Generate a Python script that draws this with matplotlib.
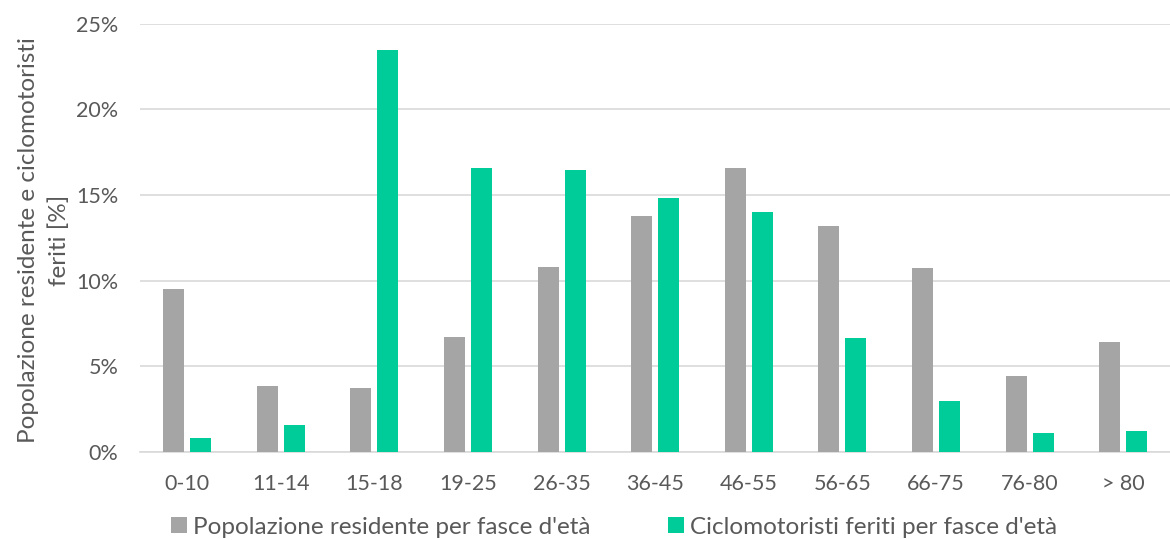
import numpy as np
import matplotlib.pyplot as plt
from matplotlib.ticker import FuncFormatter

plt.rcParams['font.family'] = ['Lato', 'DejaVu Sans']

categories = ['0-10', '11-14', '15-18', '19-25', '26-35', '36-45', '46-55', '56-65', '66-75', '76-80', '> 80']
popolazione = [9.5, 3.86, 3.74, 6.7, 10.8, 13.8, 16.6, 13.2, 10.75, 4.45, 6.4]
ciclomotoristi = [0.82, 1.56, 23.45, 16.55, 16.45, 14.8, 14.0, 6.68, 3.0, 1.13, 1.25]

gray = '#a5a5a5'
green = '#00cc99'
txt = '#595959'

fig = plt.figure(figsize=(11.7, 5.4), dpi=100)
ax = fig.add_axes([0.12, 0.163, 0.88, 0.793])

x = np.arange(len(categories))
w = 0.225
ax.bar(x - w / 2 - 0.032, popolazione, w, color=gray, label="Popolazione residente per fasce d'età", zorder=3)
ax.bar(x + w / 2 + 0.032, ciclomotoristi, w, color=green, label="Ciclomotoristi feriti per fasce d'età", zorder=3)

ax.set_ylim(0, 25)
ax.set_xlim(-0.5, len(categories) - 0.5)
ax.set_yticks([0, 5, 10, 15, 20, 25])
ax.yaxis.set_major_formatter(FuncFormatter(lambda v, p: '%d%%' % v))
ax.set_xticks(x)
ax.set_xticklabels(categories)
ax.grid(axis='y', color='#d9d9d9', linewidth=1.2, zorder=0)
for s in ['top', 'right', 'left']:
    ax.spines[s].set_visible(False)
ax.spines['bottom'].set_color('#d9d9d9')
ax.spines['bottom'].set_linewidth(1.2)
ax.tick_params(axis='both', length=0, labelsize=15.5, labelcolor=txt)
ax.tick_params(axis='x', pad=16)
ax.tick_params(axis='y', pad=16)

ax.set_ylabel('Popolazione residente e ciclomotoristi\nferiti [%]', fontsize=17.5, color=txt,
              linespacing=1.55)
ax.yaxis.set_label_coords(-0.068, 0.495)

fig.legend(*ax.get_legend_handles_labels(), loc='center', bbox_to_anchor=(0.525, 0.024), ncol=2,
           frameon=False, fontsize=17.5, labelcolor=txt, handlelength=0.65, handleheight=0.65,
           handletextpad=0.25, columnspacing=3.2, borderpad=0)

fig.savefig('out.png', dpi=100)
